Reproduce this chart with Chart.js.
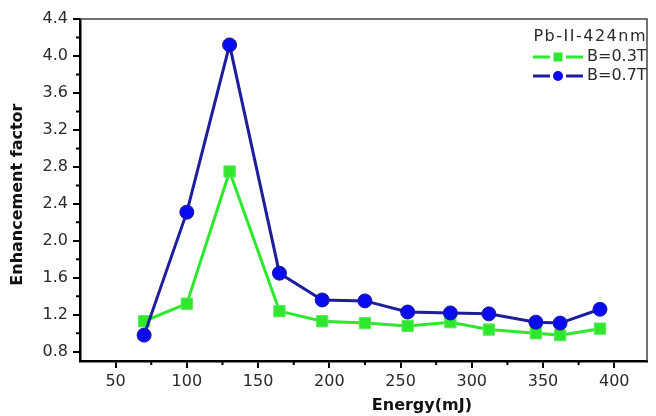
<!DOCTYPE html>
<html>
<head>
<meta charset="utf-8">
<script src="https://cdn.jsdelivr.net/npm/chart.js@4.4.0/dist/chart.umd.min.js"></script>
<style>
  html, body { margin: 0; padding: 0; background: #fff; }
  #wrap { width: 656px; height: 416px; }
</style>
</head>
<body>
<div id="wrap"><canvas id="chart"></canvas></div>
<script>
// Enhancement factor vs laser energy, Pb-II 424 nm line.
const energy = [70, 100, 130, 165, 195, 225, 255, 285, 312, 345, 362, 390];
const factor03T = [1.13, 1.32, 2.75, 1.24, 1.13, 1.11, 1.08, 1.12, 1.04, 1.00, 0.98, 1.05];
const factor07T = [0.98, 2.31, 4.12, 1.65, 1.36, 1.35, 1.23, 1.22, 1.21, 1.12, 1.11, 1.26];
const yTicks = [0.8, 1.2, 1.6, 2.0, 2.4, 2.8, 3.2, 3.6, 4.0, 4.4];
const yMinor = [1.0, 1.4, 1.8, 2.2, 2.6, 3.0, 3.4, 3.8, 4.2];
const xTicks = [50, 100, 150, 200, 250, 300, 350, 400];
const xMinor = [75, 125, 175, 225, 275, 325, 375];
const legendTitle = 'Pb-II-424nm';
const xTitle = 'Energy(mJ)';
const yTitle = 'Enhancement factor';

const GREEN = '#2ee82e';
const BLUE_LINE = '#1d1d9e';
const BLUE_PT = '#0a0af0';
const TEXT = '#2a2a2a';

// frame, minor ticks, axis titles and the legend box
const decorations = {
  id: 'decorations',
  afterDraw(chart) {
    const ctx = chart.ctx;
    const { left, right, top, bottom } = chart.chartArea;
    const xs = chart.scales.x, ys = chart.scales.y;
    ctx.save();
    // top and right border
    ctx.strokeStyle = '#444';
    ctx.lineWidth = 1.5;
    ctx.beginPath();
    ctx.moveTo(left, top);
    ctx.lineTo(right, top);
    ctx.lineTo(right, bottom);
    ctx.stroke();
    // minor ticks
    ctx.strokeStyle = '#000';
    ctx.lineWidth = 2;
    ctx.beginPath();
    yMinor.forEach((v) => {
      const y = ys.getPixelForValue(v);
      ctx.moveTo(left - 4, y);
      ctx.lineTo(left, y);
    });
    xMinor.forEach((v) => {
      const x = xs.getPixelForValue(v);
      ctx.moveTo(x, bottom);
      ctx.lineTo(x, bottom + 4);
    });
    ctx.stroke();
    // axis titles
    ctx.fillStyle = '#111';
    ctx.font = 'bold 16px "DejaVu Sans"';
    ctx.textAlign = 'center';
    ctx.textBaseline = 'middle';
    ctx.fillText(xTitle, xs.getPixelForValue(265), 406);
    ctx.translate(18, ys.getPixelForValue(2.5));
    ctx.rotate(-Math.PI / 2);
    ctx.fillText(yTitle, 0, 0);
    ctx.setTransform(1, 0, 0, 1, 0, 0);
    // legend
    ctx.fillStyle = TEXT;
    ctx.font = '16px "DejaVu Sans"';
    ctx.textAlign = 'right';
    ctx.letterSpacing = '1.5px';
    ctx.fillText(legendTitle, 647, 37);
    ctx.letterSpacing = '0px';
    ctx.textAlign = 'left';
    const rows = [
      { label: 'B=0.3T', color: GREEN, marker: 'rect', y: 57 },
      { label: 'B=0.7T', color: BLUE_LINE, marker: 'circle', y: 76 }
    ];
    rows.forEach((r) => {
      ctx.strokeStyle = r.color;
      ctx.lineWidth = 3;
      ctx.beginPath();
      ctx.moveTo(533, r.y);
      ctx.lineTo(550, r.y);
      ctx.moveTo(566, r.y);
      ctx.lineTo(583, r.y);
      ctx.stroke();
      if (r.marker === 'rect') {
        ctx.fillStyle = GREEN;
        ctx.fillRect(553.5, r.y - 4.5, 9, 9);
      } else {
        ctx.fillStyle = BLUE_PT;
        ctx.beginPath();
        ctx.arc(558, r.y, 5, 0, Math.PI * 2);
        ctx.fill();
      }
      ctx.fillStyle = TEXT;
      ctx.fillText(r.label, 587, r.y);
    });
    ctx.restore();
  }
};

const ctx = document.getElementById('chart');
new Chart(ctx, {
  type: 'line',
  data: {
    datasets: [
      {
        label: 'B=0.7T',
        data: energy.map((e, i) => ({ x: e, y: factor07T[i] })),
        borderColor: BLUE_LINE,
        borderWidth: 3,
        pointStyle: 'circle',
        pointRadius: 7,
        pointBackgroundColor: BLUE_PT,
        pointBorderColor: '#1a1a90',
        pointBorderWidth: 1,
        tension: 0
      },
      {
        label: 'B=0.3T',
        data: energy.map((e, i) => ({ x: e, y: factor03T[i] })),
        borderColor: GREEN,
        borderWidth: 3,
        pointStyle: 'rect',
        pointRadius: 8,
        pointBackgroundColor: GREEN,
        pointBorderColor: '#5ee85e',
        pointBorderWidth: 1,
        tension: 0
      }
    ]
  },
  options: {
    responsive: true,
    maintainAspectRatio: false,
    animation: false,
    layout: { padding: { top: 19, right: 3, left: 0, bottom: 0 } },
    plugins: {
      legend: { display: false },
      tooltip: { enabled: false }
    },
    scales: {
      x: {
        type: 'linear',
        min: 25,
        max: 423,
        afterBuildTicks: (s) => { s.ticks = xTicks.map((v) => ({ value: v })); },
        afterFit: (s) => { s.height = 55; },
        border: { display: true, color: '#000', width: 2.5 },
        grid: { drawOnChartArea: false, drawTicks: true, tickLength: 7, color: '#000', lineWidth: 2 },
        ticks: { color: TEXT, font: { family: 'DejaVu Sans', size: 16 }, padding: 4, maxRotation: 0, autoSkip: false }
      },
      y: {
        min: 0.7,
        max: 4.4,
        afterBuildTicks: (s) => { s.ticks = yTicks.map((v) => ({ value: v })); },
        afterFit: (s) => { s.width = 80; },
        border: { display: true, color: '#000', width: 2.5 },
        grid: { drawOnChartArea: false, drawTicks: true, tickLength: 7, color: '#000', lineWidth: 2 },
        ticks: {
          color: TEXT, font: { family: 'DejaVu Sans', size: 16 }, padding: 5, autoSkip: false,
          callback: (v) => v.toFixed(1)
        }
      }
    }
  },
  plugins: [decorations]
});
</script>
</body>
</html>
